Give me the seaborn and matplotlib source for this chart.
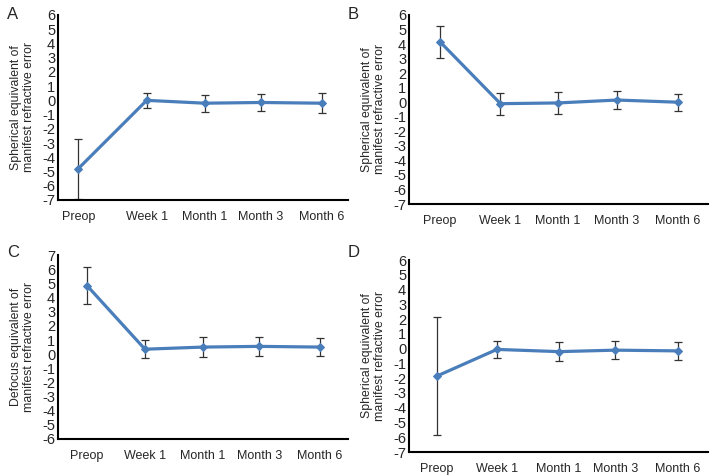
import pandas as pd
import matplotlib.pyplot as plt
import seaborn as sns

# Data (mean and SD per visit)
visits = ['Preop', 'Week 1', 'Month 1', 'Month 3', 'Month 6']
a_mean = [-4.8, 0.0, -0.2, -0.15, -0.2]
a_sd = [2.1, 0.55, 0.6, 0.6, 0.72]
b_mean = [4.15, -0.1, -0.05, 0.15, 0.0]
b_sd = [1.1, 0.75, 0.75, 0.65, 0.58]
c_mean = [4.85, 0.35, 0.5, 0.55, 0.5]
c_sd = [1.3, 0.62, 0.68, 0.65, 0.62]
d_mean = [-1.85, -0.05, -0.2, -0.1, -0.15]
d_sd = [4.0, 0.57, 0.62, 0.6, 0.6]

sns.set_style('white')
plt.rcParams['font.family'] = ['Liberation Sans', 'DejaVu Sans']
plt.rcParams['axes.unicode_minus'] = False

blue = '#4a7ebb'
se_label = 'Spherical equivalent of\nmanifest refractive error'
de_label = 'Defocus equivalent of\nmanifest refractive error'

panels = [
    # letter, mean, sd, ylabel, ylim, axes rect, x positions, letter pos
    ('A', a_mean, a_sd, se_label, (-7, 6), [0.0813, 0.579, 0.4067, 0.3895],
     [-0.15, 1.03, 2.03, 3.0, 4.05], (0.010, 0.985)),
    ('B', b_mean, b_sd, se_label, (-7, 6), [0.5736, 0.5705, 0.4194, 0.398],
     [0.02, 1.03, 1.99, 2.98, 4.0], (0.487, 0.985)),
    ('C', c_mean, c_sd, de_label, (-6, 7), [0.0813, 0.0758, 0.4067, 0.387],
     [0.0, 1.0, 2.0, 2.97, 4.02], (0.010, 0.485)),
    ('D', d_mean, d_sd, se_label, (-7, 6), [0.5736, 0.0484, 0.4194, 0.404],
     [-0.03, 0.97, 2.01, 2.95, 4.0], (0.487, 0.485)),
]

fig = plt.figure(figsize=(7.13, 4.75), dpi=100)

for letter, mean, sd, ylabel, ylim, rect, xpos, lpos in panels:
    ax = fig.add_axes(rect)
    df = pd.DataFrame({'x': xpos, 'mean': mean, 'sd': sd})
    ax.errorbar(df['x'], df['mean'], yerr=df['sd'], fmt='none',
                ecolor='#333333', elinewidth=0.9, capsize=3, capthick=0.9,
                zorder=1)
    sns.lineplot(data=df, x='x', y='mean', ax=ax, color=blue, lw=2.3,
                 marker='D', markersize=4.5, markeredgecolor=blue, zorder=2)
    ax.set_xlim(-0.5, 4.5)
    ax.set_ylim(*ylim)
    ax.set_yticks(range(ylim[0], ylim[1] + 1))
    ax.set_xticks(xpos)
    ax.set_xticklabels(visits, fontsize=9)
    ax.tick_params(axis='x', length=0, pad=8)
    ax.tick_params(axis='y', direction='in', length=3, width=1,
                   labelsize=10.5, pad=2)
    ax.set_xlabel('')
    ax.set_ylabel(ylabel, fontsize=8.8, labelpad=5, linespacing=1.1)
    for side in ['top', 'right']:
        ax.spines[side].set_visible(False)
    for side in ['left', 'bottom']:
        ax.spines[side].set_color('black')
        ax.spines[side].set_linewidth(1.5)
    fig.text(lpos[0], lpos[1], letter, fontsize=12, va='top', ha='left')

plt.savefig('out.png', dpi=100)
plt.close()
